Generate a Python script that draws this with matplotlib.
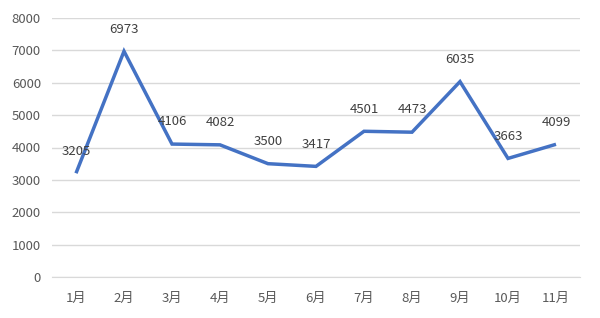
import matplotlib
matplotlib.use("Agg")
import matplotlib.pyplot as plt

plt.rcParams["font.family"] = ["Noto Sans CJK SC", "DejaVu Sans"]

months = ["1月", "2月", "3月", "4月", "5月", "6月", "7月", "8月", "9月", "10月", "11月"]
values = [3205, 6973, 4106, 4082, 3500, 3417, 4501, 4473, 6035, 3663, 4099]

text_color = "#595959"
line_color = "#4472C4"
grid_color = "#d9d9d9"

fig = plt.figure(figsize=(6.0, 3.18), dpi=100)
ax = fig.add_axes([52 / 600, 1 - 277 / 318, 528 / 600, 259 / 318])

x = list(range(len(months)))
ax.plot(x, values, color=line_color, linewidth=2.5, solid_capstyle="butt",
        solid_joinstyle="miter", zorder=3)

# data labels above each point
for xi, v in zip(x, values):
    ax.annotate(str(v), (xi, v), xytext=(0, 16), textcoords="offset points",
                ha="center", va="center", fontsize=9.5, color="#404040", zorder=4)

ax.set_xlim(-0.5, len(months) - 0.5)
ax.set_ylim(0, 8000)
ax.set_yticks(range(0, 8001, 1000))
ax.set_xticks(x)
ax.set_xticklabels(months)
ax.yaxis.grid(True, color=grid_color, linewidth=1)
ax.set_axisbelow(True)
for s in ["top", "right", "left"]:
    ax.spines[s].set_visible(False)
ax.spines["bottom"].set_color(grid_color)
ax.tick_params(axis="both", length=0, labelsize=9.5, colors=text_color)
ax.tick_params(axis="y", pad=8)
ax.tick_params(axis="x", pad=11)

fig.savefig("out.png", dpi=100)
